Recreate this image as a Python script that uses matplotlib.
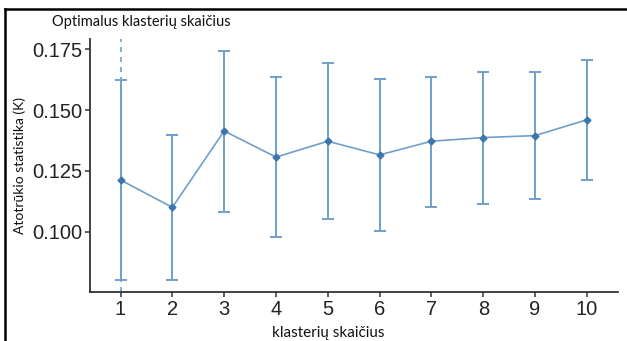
import matplotlib
matplotlib.use("Agg")
import matplotlib.pyplot as plt
from matplotlib.lines import Line2D

plt.rcParams["font.family"] = ["Liberation Sans", "DejaVu Sans"]

k = [1, 2, 3, 4, 5, 6, 7, 8, 9, 10]
gap = [0.1213, 0.1101, 0.1414, 0.1307, 0.1372, 0.1316, 0.1372, 0.1387, 0.1395, 0.1460]
lower = [0.0802, 0.0802, 0.1082, 0.0980, 0.1053, 0.1003, 0.1104, 0.1115, 0.1137, 0.1212]
upper = [0.1622, 0.1398, 0.1742, 0.1635, 0.1693, 0.1626, 0.1635, 0.1654, 0.1654, 0.1704]
optimal_k = 1
yticks = [0.100, 0.125, 0.150, 0.175]
title = "Optimalus klasterių skaičius"
xlabel = "klasterių skaičius"
ylabel = "Atotrūkio statistika (K)"

fig = plt.figure(figsize=(6.27, 3.41), dpi=100)
ax = fig.add_axes([0.1435, 0.1437, 0.8421, 0.7419])

col_err = "#6f9fcb"
col_line = "#6f9fcb"
col_pt = "#3b76ad"

ax.axvline(optimal_k, color=col_err, lw=1.2, ls=(0, (3, 3)), zorder=1)
yerr = [[g - l for g, l in zip(gap, lower)], [u - g for g, u in zip(gap, upper)]]
ax.errorbar(k, gap, yerr=yerr, fmt="none", ecolor=col_err, elinewidth=1.4,
            capsize=4, capthick=1.4, zorder=2)
ax.plot(k, gap, color=col_line, lw=1.2, zorder=3)
ax.plot(k, gap, ls="none", marker="D", ms=3.5, color=col_pt, zorder=4)

ax.set_xlim(0.41, 10.6)
ax.set_ylim(0.0754, 0.1791)
ax.set_xticks(k)
ax.set_yticks(yticks)
ax.set_yticklabels([f"{v:.3f}" for v in yticks])
for s in ["top", "right"]:
    ax.spines[s].set_visible(False)
for s in ["left", "bottom"]:
    ax.spines[s].set_color("#333333")
    ax.spines[s].set_linewidth(1.3)
ax.tick_params(length=3.5, width=1.1, color="#333333", labelsize=14.5,
               labelcolor="#222222", pad=2)

fig.text(52 / 627, 1 - 22 / 341, title, fontsize=10.5, family="Lato",
         ha="left", va="center", color="#111111")
fig.text(328 / 627, 1 - 333 / 341, xlabel, fontsize=11, family="Lato",
         ha="center", va="center", color="#111111")
fig.text(20 / 627, 1 - 166 / 341, ylabel, fontsize=10, family="Lato",
         ha="center", va="center", rotation=90, color="#111111")

fig.add_artist(Line2D([5 / 627, 1], [1 - 9 / 341, 1 - 9 / 341], transform=fig.transFigure,
                      color="black", lw=1.8))
fig.add_artist(Line2D([5 / 627, 5 / 627], [0, 1 - 9 / 341], transform=fig.transFigure,
                      color="black", lw=1.8))

fig.savefig("out.png", dpi=100)
